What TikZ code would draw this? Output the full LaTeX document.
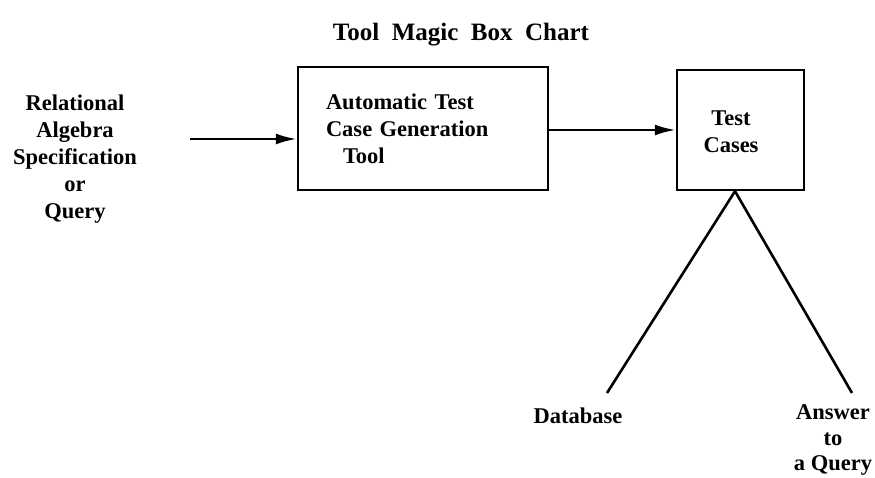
\documentclass[tikz,border=0pt]{standalone}
\usepackage{fontspec}
\setmainfont{Liberation Serif}
\usetikzlibrary{arrows.meta}
\begin{document}
\begin{tikzpicture}[x=1pt,y=-1pt,line width=2.6pt,
     every node/.style = {font=\fontsize{22.5}{27}\selectfont\bfseries},
     toolbox/.style = {draw,line width=2.4pt,inner ysep=0pt},
     arr/.style = {-{Latex[length=21pt,width=11pt]}}]
   \useasboundingbox (0,0) rectangle (875,478);
   \node[font=\fontsize{25}{30}\selectfont\bfseries] (title) at (461,35) {Tool\ \ Magic\ \ Box\ \ Chart};
   \node[align=center] (query) at (75,159) {Relational\\Algebra\\Specification\\or\\Query};
   \node[toolbox,minimum width=250pt,minimum height=123pt,text width=194pt,
         inner xsep=28pt,align=left] (tool) at (423,128.5)
         {Automatic Test\\Case Generation\\\hspace*{17pt}Tool};
   \node[toolbox,minimum width=127pt,minimum height=120pt] (tc) at (740.5,130) {};
   \node[align=center] (tctext) at (731,132) {Test\\Cases};
   \node (db) at (578,416) {Database};
   \node[align=center,inner xsep=0pt,
         font=\fontsize{22.5}{25.5}\selectfont\bfseries] (ans) at (833,440) {Answer\\to\\a Query};
   \coordinate (qend) at (190,139);
   \coordinate (dbend) at (607,393);
   \coordinate (ansend) at (852,393);
   \draw[arr] (qend) -- (qend -| tool.west);
   \draw[arr] (tool.east |- 0,130) -- (tc.west |- 0,130);
   \draw (tc.south -| 735,0) -- (dbend)
         (tc.south -| 735,0) -- (ansend);
\end{tikzpicture}
\end{document}
